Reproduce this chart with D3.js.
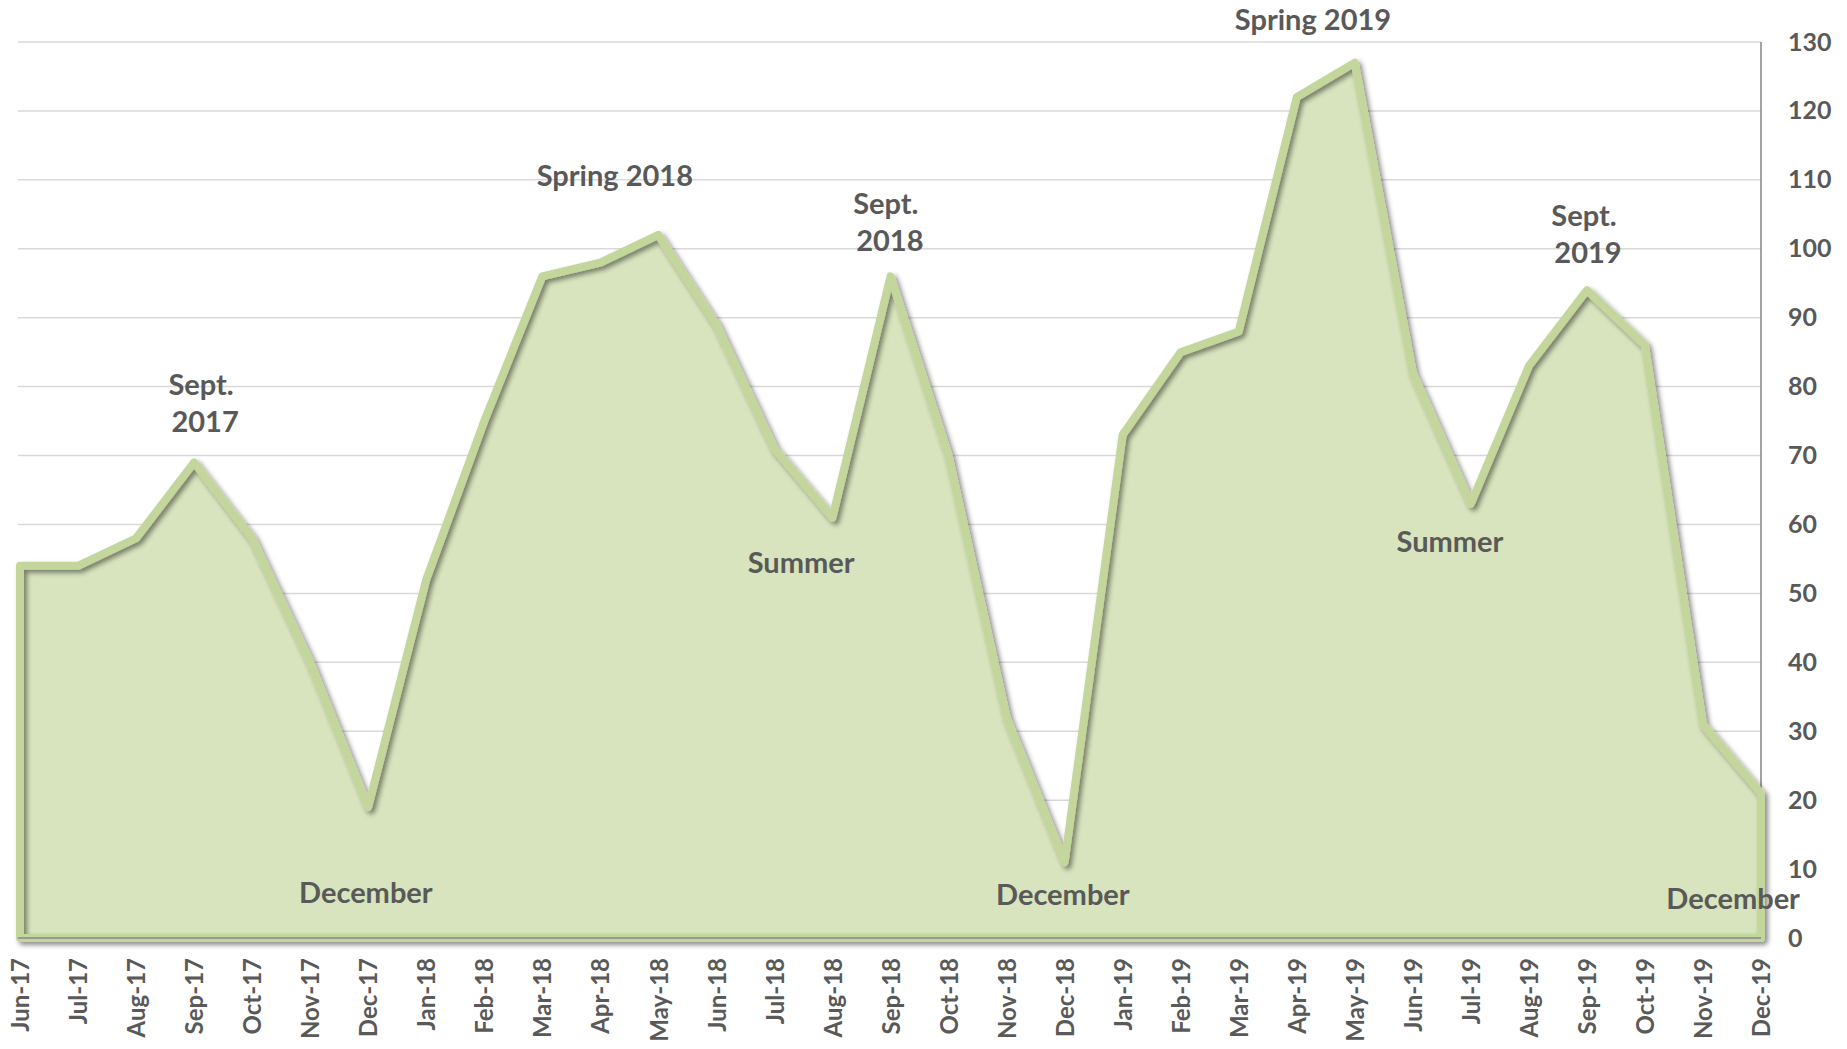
<!DOCTYPE html>
<html>
<head>
<meta charset="utf-8">
<script src="https://cdn.jsdelivr.net/npm/d3@7"></script>
<style>
  body { margin: 0; background: #fff; }
  svg { display: block; font-family: Lato, "Open Sans", sans-serif; font-weight: 700; }
</style>
</head>
<body>
<svg id="chart" width="1847" height="1049"></svg>
<script>
const months = ['Jun-17','Jul-17','Aug-17','Sep-17','Oct-17','Nov-17','Dec-17',
  'Jan-18','Feb-18','Mar-18','Apr-18','May-18','Jun-18','Jul-18','Aug-18','Sep-18','Oct-18','Nov-18','Dec-18',
  'Jan-19','Feb-19','Mar-19','Apr-19','May-19','Jun-19','Jul-19','Aug-19','Sep-19','Oct-19','Nov-19','Dec-19']
const values = [54, 54, 58, 69, 58, 40, 19,
  52, 75, 96, 98, 102, 89, 71, 61, 96, 70, 32, 11,
  73, 85, 88, 122, 127, 82, 63, 83, 94, 86, 31, 21]
const yTicks = [0, 10, 20, 30, 40, 50, 60, 70, 80, 90, 100, 110, 120, 130]

// annotation text, placed at (month index, value) in chart units
const noteText = [['Sept.', '2017'], ['December'], ['Spring 2018'], ['Sept.', '2018'], ['Summer'],
  ['December'], ['Spring 2019'], ['Summer'], ['Sept.', '2019'], ['December']]
const noteIdx = [3.12, 5.96, 10.25, 14.92, 13.46, 17.97, 22.28, 24.64, 26.95, 29.52]
const noteVal = [80.3, 6.5, 110.6, 106.5, 54.4, 6.2, 133.2, 57.5, 104.8, 5.7]

const width = 1847, height = 1049
const marginLeft = 20, marginRight = 86, marginTop = 42, marginBottom = 111

const svg = d3.select('#chart')

const x = d3.scaleLinear([0, months.length - 1], [marginLeft, width - marginRight])
const y = d3.scaleLinear([0, 130], [height - marginBottom, marginTop])

const defs = svg.append('defs')
const f = defs.append('filter').attr('id', 'shadow')
  .attr('x', '-5%').attr('y', '-5%').attr('width', '110%').attr('height', '110%')
f.append('feDropShadow').attr('dx', 3).attr('dy', 3).attr('stdDeviation', 2.5)
  .attr('flood-color', '#000').attr('flood-opacity', 0.45)

// gridlines
svg.append('g')
  .selectAll('line')
  .data(yTicks.filter(d => d > 0))
  .join('line')
  .attr('x1', marginLeft - 2).attr('x2', x(months.length - 1))
  .attr('y1', d => y(d)).attr('y2', d => y(d))
  .attr('stroke', '#d9d9d9').attr('stroke-width', 1.5)

// right axis line
svg.append('line')
  .attr('x1', x(months.length - 1)).attr('x2', x(months.length - 1))
  .attr('y1', y(130)).attr('y2', y(0))
  .attr('stroke', '#868686').attr('stroke-width', 1.5)

// area
const pts = values.map((v, i) => [x(i), y(v)])
const shape = [[x(0), y(0)], ...pts, [x(months.length - 1), y(0)]]

svg.append('path')
  .attr('d', d3.line()(shape) + 'Z')
  .attr('fill', '#d7e4bd')

svg.append('path')
  .attr('d', d3.line()(shape) + 'Z')
  .attr('fill', 'none')
  .attr('stroke', '#c3d69b')
  .attr('stroke-width', 8)
  .attr('stroke-linejoin', 'round')
  .attr('filter', 'url(#shadow)')

// bottom axis
const xAxis = d3.axisBottom(x)
  .tickValues(d3.range(months.length))
  .tickFormat(i => months[i])
  .tickSize(0)

svg.append('g')
  .attr('transform', `translate(0,${y(0)})`)
  .call(xAxis)
  .call(g => g.select('.domain').attr('stroke', '#868686').attr('stroke-width', 1.5)
    .attr('d', `M${marginLeft - 2},0H${x(months.length - 1)}`))
  .call(g => g.selectAll('.tick text')
    .attr('font-family', 'Lato, "Open Sans", sans-serif')
    .attr('font-weight', 700)
    .attr('font-size', 24)
    .attr('fill', '#595959')
    .attr('transform', 'rotate(-90)')
    .attr('text-anchor', 'end')
    .attr('x', -20).attr('y', 0).attr('dy', '0.36em'))

// right labels
const yAxis = d3.axisRight(y).tickValues(yTicks).tickSize(0)
svg.append('g')
  .attr('transform', `translate(${x(months.length - 1)},0)`)
  .call(yAxis)
  .call(g => g.select('.domain').remove())
  .call(g => g.selectAll('.tick text')
    .attr('font-family', 'Lato, "Open Sans", sans-serif')
    .attr('font-weight', 700)
    .attr('font-size', 25)
    .attr('fill', '#595959')
    .attr('x', 27))

// annotations
const notes = svg.append('g')
  .attr('font-size', 29)
  .attr('fill', '#595959')
  .attr('text-anchor', 'middle')

noteText.forEach((lines, k) => {
  const t = notes.append('text')
    .attr('x', x(noteIdx[k]))
    .attr('y', y(noteVal[k]))
  lines.forEach((s, j) => {
    t.append('tspan')
      .attr('x', x(noteIdx[k]) + (j > 0 ? 4 : 0))
      .attr('dy', j === 0 ? '0.35em' : 37)
      .text(s)
  })
})
</script>
</body>
</html>
